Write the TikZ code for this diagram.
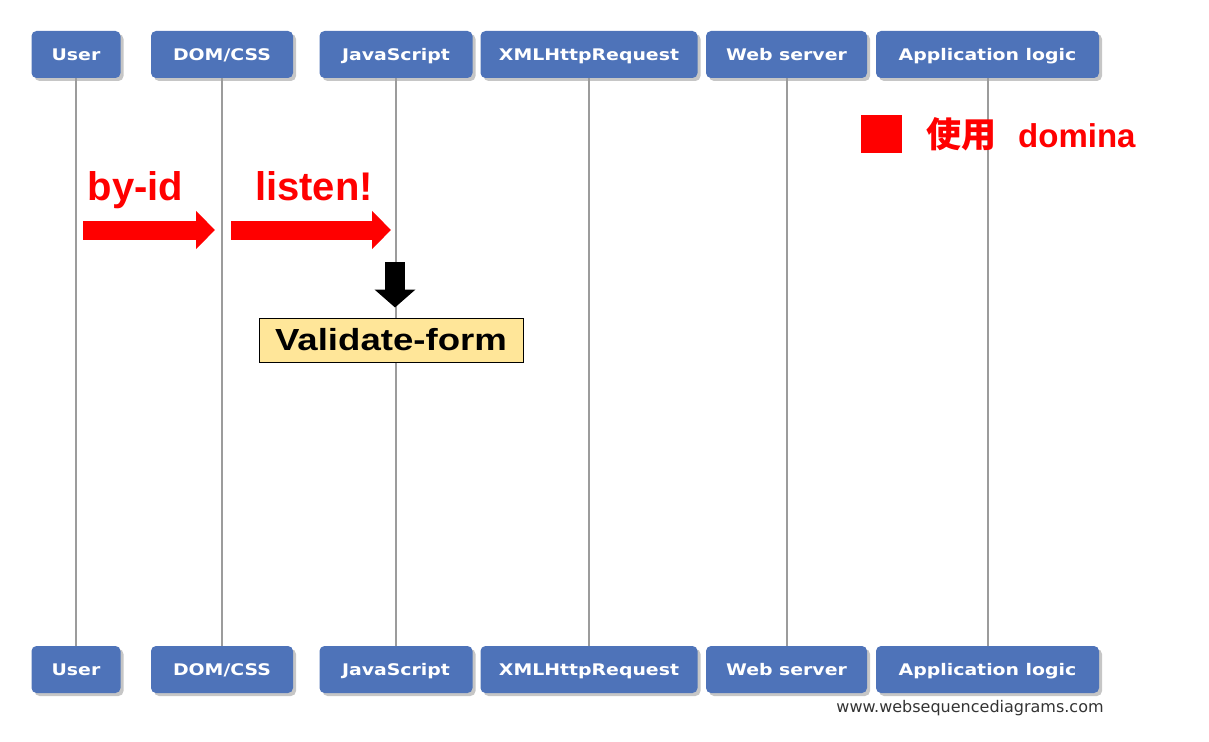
\documentclass[tikz,border=0pt]{standalone}
\usepackage{fontspec}
\setmainfont{Liberation Sans}
\newfontfamily\boxfont[FakeStretch=1.18]{DejaVu Sans}
\newfontfamily\markfont{DejaVu Sans}
\newfontfamily\wideb[FakeStretch=1.2]{Liberation Sans}
\newfontfamily\cjk{Noto Sans CJK SC}
\usetikzlibrary{arrows.meta, shadows, positioning}
\definecolor{objblue}{HTML}{4E73B9}
\definecolor{lifegray}{HTML}{9C9C9C}
\definecolor{notefill}{HTML}{FFE699}
\definecolor{hotred}{HTML}{FF0000}

\begin{document}
\begin{tikzpicture}[x=1pt, y=-1pt,
  obj/.style={fill=objblue, rounded corners=5pt, minimum height=47pt, inner sep=0pt, text height=12pt, text depth=0pt, text=white, font=\boxfont\bfseries\fontsize{16}{16}\selectfont, drop shadow={shadow xshift=3pt, shadow yshift=-3pt, opacity=.45}},
  life/.style={draw=lifegray, line width=2pt},
  fat/.style={hotred, line width=19pt, -{Triangle[length=19pt, width=37pt]}},
  word/.style={text=hotred, font=\bfseries\fontsize{40}{40}\selectfont, anchor=base, inner sep=0pt}]
  \useasboundingbox (0,0) rectangle (1209,741);

  \node[obj, minimum width=89pt] (user) at (76,54.5) {User};
  \node[obj, minimum width=142pt] (dom) at (222,54.5) {DOM/CSS};
  \node[obj, minimum width=153pt] (js) at (396,54.5) {JavaScript};
  \node[obj, minimum width=217pt] (xhr) at (589,54.5) {XMLHttpRequest};
  \node[obj, minimum width=161pt] (web) at (786.5,54.5) {Web server};
  \node[obj, minimum width=223pt] (app) at (987.5,54.5) {Application logic};

  \node[obj, minimum width=89pt] (user2) at (76,669.5) {User};
  \node[obj, minimum width=142pt] (dom2) at (222,669.5) {DOM/CSS};
  \node[obj, minimum width=153pt] (js2) at (396,669.5) {JavaScript};
  \node[obj, minimum width=217pt] (xhr2) at (589,669.5) {XMLHttpRequest};
  \node[obj, minimum width=161pt] (web2) at (786.5,669.5) {Web server};
  \node[obj, minimum width=223pt] (app2) at (987.5,669.5) {Application logic};

  \foreach \o in {user, dom, js, xhr, web, app}
    \draw[life] (\o) -- (\o2);

  \node[font=\markfont\fontsize{16}{16}\selectfont, text=black!80] (site) at (970,708) {www.websequencediagrams.com};

  \node[word] (byid) at (135.5,200) {by-id};
  \node[word] (listen) at (314,200) {listen!};
  \coordinate (id0) at (83,230);
  \coordinate (id1) at (215,230);
  \coordinate (ls0) at (231,230);
  \coordinate (ls1) at (391,230);
  \draw[fat] (id0) -- (id1);
  \draw[fat] (ls0) -- (ls1);

  \node[draw=black, line width=1pt, fill=notefill, minimum width=264pt, minimum height=44pt, inner sep=0pt, font=\wideb\bfseries\fontsize{30.5}{30.5}\selectfont] (form) at (391,340) {Validate-form};
  \coordinate (down0) at (395,262);
  \draw[black, line width=20pt, -{Triangle[length=18pt, width=40pt]}, shorten >=10pt] (down0) -- (down0 |- form.north);

  \node[fill=hotred, minimum width=41pt, minimum height=38pt, inner sep=0pt] (key) at (881.5,134) {};
  \node[anchor=base west, inner sep=0pt, text=hotred, font=\bfseries\fontsize{33}{33}\selectfont] (keytext) at (926,147) {{\cjk\fontsize{35}{35}\selectfont 使用}\hspace{22pt}domina};
\end{tikzpicture}
\end{document}
